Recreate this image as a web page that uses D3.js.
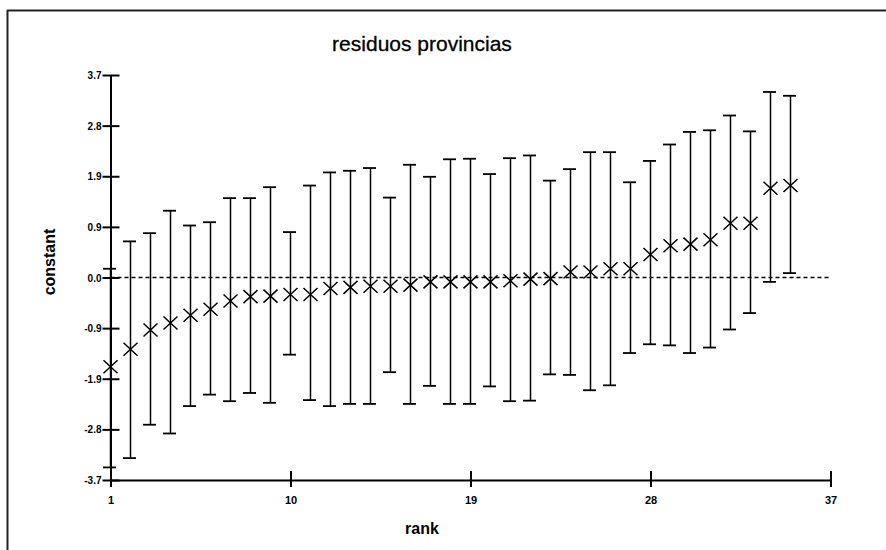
<!DOCTYPE html>
<html>
<head>
<meta charset="utf-8">
<script src="https://cdn.jsdelivr.net/npm/d3@7"></script>
<style>
  html, body { margin: 0; padding: 0; background: #fff; }
  svg { display: block; }
</style>
</head>
<body>
<svg id="chart" width="886" height="550"></svg>
<script>
// ---- data ----
const ranks = [1,2,3,4,5,6,7,8,9,10,11,12,13,14,15,16,17,18,19,20,21,22,23,24,25,26,27,28,29,30,31,32,33,34,35];
const estimates = [-1.63,-1.31,-0.96,-0.83,-0.69,-0.58,-0.43,-0.35,-0.34,-0.31,-0.31,-0.20,-0.18,-0.16,-0.16,-0.14,-0.08,-0.08,-0.08,-0.08,-0.06,-0.03,-0.02,0.10,0.10,0.16,0.16,0.42,0.58,0.61,0.69,0.99,0.99,1.63,1.68];
const upper = [0.16,0.66,0.81,1.22,0.95,1.01,1.45,1.45,1.65,0.83,1.68,1.92,1.95,2.00,1.46,2.06,1.84,2.16,2.17,1.89,2.18,2.23,1.77,1.98,2.29,2.29,1.74,2.13,2.43,2.66,2.69,2.96,2.67,3.39,3.32];
const lower = [-3.47,-3.30,-2.69,-2.85,-2.35,-2.14,-2.26,-2.11,-2.29,-1.41,-2.24,-2.35,-2.31,-2.31,-1.73,-2.31,-1.98,-2.31,-2.31,-1.99,-2.26,-2.25,-1.77,-1.78,-2.06,-1.97,-1.38,-1.22,-1.24,-1.38,-1.28,-0.95,-0.65,-0.08,0.08];
const yTickValues = [3.7, 2.775, 1.85, 0.925, 0, -0.925, -1.85, -2.775, -3.7];
const yTickLabels = ["3.7","2.8","1.9","0.9","0.0","-0.9","-1.9","-2.8","-3.7"];
const xTickValues = [1, 10, 19, 28, 37];
const titleText = "residuos provincias";
const xTitle = "rank";
const yTitle = "constant";

// ---- drawing ----
const svg = d3.select("#chart");
const narrow = "'Liberation Sans Narrow','Arial Narrow','Liberation Sans',Arial,sans-serif";
const sans = "'Liberation Sans',Arial,sans-serif";

const x = d3.scaleLinear().domain([1, 37]).range([110.5, 830.5]);
const y = d3.scaleLinear().domain([-3.7, 3.7]).range([480, 75]);

// frame (top and left lines)
svg.append("line").attr("x1", 7).attr("x2", 886).attr("y1", 10.5).attr("y2", 10.5)
  .attr("stroke", "#222").attr("stroke-width", 2);
svg.append("line").attr("x1", 7.5).attr("x2", 7.5).attr("y1", 10).attr("y2", 550)
  .attr("stroke", "#222").attr("stroke-width", 2);

// title
svg.append("text").attr("x", 422).attr("y", 51).attr("text-anchor", "middle")
  .attr("font-family", sans).attr("font-size", 21).attr("fill", "#000")
  .attr("stroke", "#000").attr("stroke-width", 0.3).text(titleText);

// zero reference line
svg.append("line").attr("x1", x(1)).attr("x2", x(37)).attr("y1", y(0)).attr("y2", y(0))
  .attr("stroke", "#000").attr("stroke-width", 1.6).attr("stroke-dasharray", "4,3");

// y axis
const yAxis = d3.axisLeft(y).tickValues(yTickValues)
  .tickFormat((d, i) => yTickLabels[i]).tickSizeInner(0).tickSizeOuter(0).tickPadding(0);
const gy = svg.append("g").attr("transform", `translate(${x(1)},0)`).call(yAxis);
gy.select(".domain").attr("stroke", "#000").attr("stroke-width", 2);
gy.selectAll(".tick line").attr("x1", -8).attr("x2", 9).attr("stroke", "#000").attr("stroke-width", 2);
gy.selectAll(".tick text").attr("x", -9).attr("dy", "0.35em")
  .attr("font-family", narrow).attr("font-weight", "bold").attr("font-size", 10).attr("fill", "#000");

// x axis
const xAxis = d3.axisBottom(x).tickValues(xTickValues).tickFormat(d3.format("d"))
  .tickSizeInner(0).tickSizeOuter(0).tickPadding(0);
const gx = svg.append("g").attr("transform", `translate(0,${y(-3.7)})`).call(xAxis);
gx.select(".domain").attr("stroke", "#000").attr("stroke-width", 2);
gx.selectAll(".tick line").attr("y1", -9).attr("y2", 7).attr("stroke", "#000").attr("stroke-width", 2);
gx.selectAll(".tick text").attr("y", 16).attr("dy", "0.71em")
  .attr("font-family", narrow).attr("font-weight", "bold").attr("font-size", 11).attr("fill", "#000");

// axis titles
svg.append("text").attr("x", 422).attr("y", 534).attr("text-anchor", "middle")
  .attr("font-family", sans).attr("font-weight", "bold").attr("font-size", 16).attr("fill", "#000").text(xTitle);
svg.append("text").attr("transform", "translate(55,262) rotate(-90)").attr("text-anchor", "middle")
  .attr("font-family", sans).attr("font-weight", "bold").attr("font-size", 16).attr("fill", "#000").text(yTitle);

// error bars
const data = ranks.map((r, i) => ({ r, est: estimates[i], lo: lower[i], hi: upper[i] }));
const g = svg.append("g");
const bars = g.selectAll("g.bar").data(data).join("g").attr("class", "bar");
bars.append("line").attr("x1", d => x(d.r)).attr("x2", d => x(d.r))
  .attr("y1", d => y(d.hi)).attr("y2", d => y(d.lo)).attr("stroke", "#000").attr("stroke-width", 1.5);
bars.append("line").attr("x1", d => x(d.r) - 7.5).attr("x2", d => x(d.r) + 5.5)
  .attr("y1", d => y(d.hi)).attr("y2", d => y(d.hi)).attr("stroke", "#000").attr("stroke-width", 1.8);
bars.append("line").attr("x1", d => x(d.r) - 7.5).attr("x2", d => x(d.r) + 5.5)
  .attr("y1", d => y(d.lo)).attr("y2", d => y(d.lo)).attr("stroke", "#000").attr("stroke-width", 1.8);
// cross markers
bars.append("path")
  .attr("d", d => {
    const cx = x(d.r), cy = y(d.est), w = 7, h = 6.5;
    return `M${cx - w},${cy - h}L${cx + w},${cy + h}M${cx - w},${cy + h}L${cx + w},${cy - h}`;
  })
  .attr("stroke", "#000").attr("stroke-width", 1.5).attr("fill", "none");
</script>
</body>
</html>
